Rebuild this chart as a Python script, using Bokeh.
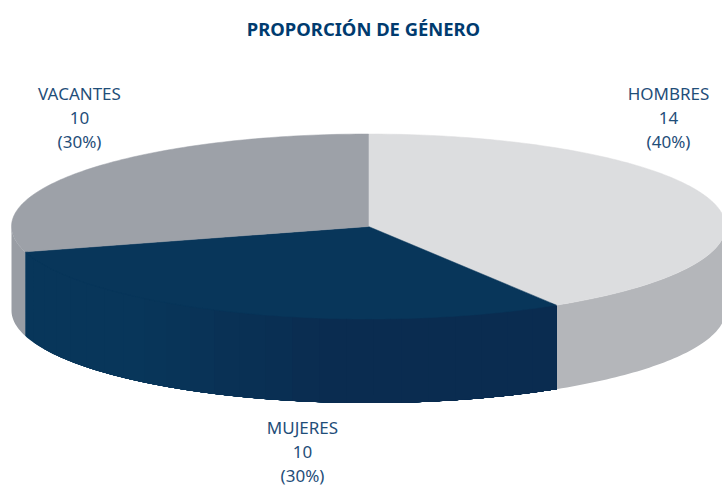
import math
from bokeh.embed import file_html
from bokeh.resources import INLINE
from bokeh.plotting import figure
from bokeh.models import Range1d
from bokeh.core.properties import value

# data
categories = ["HOMBRES", "MUJERES", "VACANTES"]
counts = [14, 10, 10]
percent_labels = ["(40%)", "(30%)", "(30%)"]

# style
top_colors = ["#DCDDDF", "#08365A", "#9DA1A8"]
side_colors = [("#B4B6BA", "#B4B6BA"), ("#0A2C50", "#08365A"), ("#999DA4", "#999DA4")]
TEXT = "#1F4E79"
TITLE = "#003B6F"
FONT = "Noto Sans"

# layout (pixel space of the picture)
W, H = 722, 487
CX, CY, RX, RY, DEPTH = 368, 226, 357, 92.5, 84
label_x = [668, 302, 79]
label_y = [93, 427, 93]
LINE = 24

p = figure(width=W, height=H, output_backend="svg", toolbar_location=None,
           x_range=Range1d(0, W), y_range=Range1d(H, 0), min_border=0,
           outline_line_color=None, margin=(0, -8, -8, 0))
p.axis.visible = False
p.grid.visible = False
p.background_fill_color = "white"


def pt(deg, dy=0):
    a = math.radians(deg)
    return CX + RX * math.sin(a), CY - RY * math.cos(a) + dy


def arc(a, b, dy=0):
    n = max(2, int(abs(b - a)) + 1)
    return [pt(a + (b - a) * i / (n - 1), dy) for i in range(n)]


def mix(c1, c2, t):
    v1 = [int(c1[i:i + 2], 16) for i in (1, 3, 5)]
    v2 = [int(c2[i:i + 2], 16) for i in (1, 3, 5)]
    return "#" + "".join(f"{round(u + (w - u) * t):02X}" for u, w in zip(v1, v2))


total = sum(counts)
start = 0.0
slices = []
for c in counts:
    end = start + 360.0 * c / total
    slices.append((start, end))
    start = end

for (a, b), (c_right, c_left) in zip(slices, side_colors):
    fa, fb = max(a, 90), min(b, 270)
    if fa < fb:
        shaded = c_right != c_left
        steps = 24 if shaded else 1
        lift = -3 if shaded else 0  # tucked under the top face so no seam shows
        # painted from the left end inward, each band over the last, so no seams show
        for k in range(steps - 1, -1, -1):
            s1 = fa + (fb - fa) * (k + 1) / steps
            xm = pt(fa + (fb - fa) * (k + 0.5) / steps)[0]
            t = min(1.0, max(0.0, (330 - xm) / 190))
            col = mix(c_right, c_left, t)
            pts = arc(fa, s1, lift) + arc(s1, fa, DEPTH)
            p.patch([q[0] for q in pts], [q[1] for q in pts], fill_color=col, line_color=None)

for (a, b), col in zip(slices, top_colors):
    pts = [(CX, CY)] + arc(a, b)
    p.patch([q[0] for q in pts], [q[1] for q in pts], fill_color=col, line_color=col, line_width=0.5)

for name, cnt, pct, x, y in zip(categories, counts, percent_labels, label_x, label_y):
    p.text([x] * 3, [y, y + LINE, y + 2 * LINE], text=[name, str(cnt), pct],
           text_font=value(FONT), text_font_size="17px", text_color=TEXT,
           text_align="center", text_baseline="middle")

p.text([363], [28], text=["PROPORCIÓN DE GÉNERO"], text_font=value(FONT), text_font_style="bold",
       text_font_size="18.4px", text_color=TITLE, text_align="center", text_baseline="middle")

open("out.html", "w").write(file_html(p, INLINE))
